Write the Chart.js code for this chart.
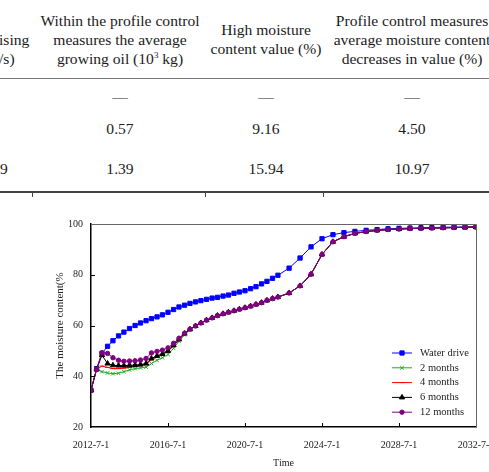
<!DOCTYPE html>
<html>
<head>
<meta charset="utf-8">
<script src="https://cdn.jsdelivr.net/npm/chart.js@4/dist/chart.umd.min.js"></script>
<style>
  html, body { margin: 0; padding: 0; background: #fff; }
  body { width: 489px; height: 472px; position: relative; overflow: hidden;
         font-family: "Liberation Serif", "DejaVu Serif", serif; color: #1c1c1c; }
  .cell { position: absolute; font-size: 15.6px; line-height: 18.8px; white-space: nowrap; text-align: center; transform: translateX(-50%); }
  .left { position: absolute; font-size: 15.6px; line-height: 18.8px; white-space: nowrap; }
  .rule { position: absolute; left: 0; width: 489px; }
  .tick { position: absolute; width: 1px; height: 4px; background: #444; top: 193px; }
  sup { font-size: 9px; line-height: 0; vertical-align: 6px; }
  #chartBox { position: absolute; left: 0; top: 200px; width: 489px; height: 272px; }
</style>
</head>
<body>
  <!-- table header -->
  <div class="left" style="left:-1px; top:31px;">ising<br>/s)</div>
  <div class="cell" style="left:120px; top:12px;">Within the profile control<br>measures the average<br>growing oil (10<sup>3</sup> kg)</div>
  <div class="cell" style="left:266px; top:21px;">High moisture<br>content value (%)</div>
  <div class="cell" style="left:412px; top:12px;">Profile control measures<br>average moisture content<br>decreases in value (%)</div>
  <div class="rule" style="top:78px; height:1px; background:#777;"></div>

  <!-- table body -->
  <div class="cell" style="left:120px; top:88px;">—</div>
  <div class="cell" style="left:266px; top:88px;">—</div>
  <div class="cell" style="left:412px; top:88px;">—</div>
  <div class="cell" style="left:120px; top:120px;">0.57</div>
  <div class="cell" style="left:266px; top:120px;">9.16</div>
  <div class="cell" style="left:412px; top:120px;">4.50</div>
  <div class="left" style="left:0px; top:160px;">9</div>
  <div class="cell" style="left:120px; top:160px;">1.39</div>
  <div class="cell" style="left:266px; top:160px;">15.94</div>
  <div class="cell" style="left:412px; top:160px;">10.97</div>
  <div class="rule" style="top:191px; height:2px; background:#444;"></div>
  <div class="tick" style="left:32px;"></div>
  <div class="tick" style="left:205px;"></div>
  <div class="tick" style="left:323px;"></div>

  <div id="chartBox"><canvas id="chart"></canvas></div>

<script>
// sample times (decimal years)
const years = [
    2012.50, 2012.79, 2013.07, 2013.36, 2013.64, 2013.93, 2014.21, 2014.50, 2014.79, 2015.07,
    2015.36, 2015.64, 2015.93, 2016.21, 2016.50, 2016.79, 2017.07, 2017.36, 2017.64, 2017.93,
    2018.21, 2018.50, 2018.79, 2019.07, 2019.36, 2019.64, 2019.93, 2020.21, 2020.50, 2020.79,
    2021.07, 2021.36, 2021.64, 2021.93, 2022.21, 2022.79, 2023.36, 2023.93, 2024.50, 2025.07,
    2025.64, 2026.21, 2026.79, 2027.36, 2027.93, 2028.50, 2029.07, 2029.64, 2030.21, 2030.79,
    2031.36, 2031.93, 2032.50
];

const waterDrive = [
    34.5, 43.0, 49.0, 51.8, 54.0, 55.9, 57.4, 58.8, 60.0, 61.0,
    61.9, 62.7, 63.4, 64.2, 65.2, 66.3, 67.3, 68.0, 68.7, 69.3,
    69.8, 70.3, 70.8, 71.1, 71.6, 72.0, 72.7, 73.2, 73.7, 74.5,
    75.3, 76.4, 77.4, 78.6, 79.8, 82.6, 86.6, 91.0, 94.2, 95.8,
    96.6, 97.1, 97.5, 97.8, 98.1, 98.3, 98.4, 98.5, 98.6, 98.7,
    98.8, 98.8, 98.9
];

const months2 = [
    34.5, 42.7, 41.8, 41.3, 41.0, 41.2, 41.8, 42.5, 43.0, 43.3,
    43.6, 45.0, 46.3, 47.3, 48.6, 51.0, 53.8, 56.3, 58.3, 59.8,
    61.0, 62.1, 63.0, 63.9, 64.6, 65.2, 65.8, 66.4, 67.0, 67.6,
    68.3, 69.0, 69.9, 70.6, 71.2, 72.8, 75.6, 80.2, 88.0, 93.0,
    95.0, 96.3, 97.0, 97.5, 97.8, 98.0, 98.2, 98.3, 98.4, 98.5,
    98.6, 98.7, 98.8
];

const months4 = [
    34.5, 42.7, 44.0, 43.5, 43.0, 43.0, 43.2, 43.5, 43.8, 44.2,
    44.6, 46.5, 47.6, 48.5, 49.8, 52.0, 54.5, 56.8, 58.5, 59.8,
    61.0, 62.1, 63.0, 63.9, 64.6, 65.2, 65.8, 66.4, 67.0, 67.6,
    68.3, 69.0, 69.9, 70.6, 71.2, 72.8, 75.6, 80.2, 88.0, 93.0,
    95.0, 96.3, 97.0, 97.5, 97.8, 98.0, 98.2, 98.3, 98.4, 98.5,
    98.6, 98.7, 98.8
];

const months6 = [
    34.5, 42.7, 48.3, 45.0, 44.3, 44.2, 44.2, 44.3, 44.4, 44.6,
    45.0, 47.0, 48.0, 48.8, 50.0, 52.2, 54.5, 56.8, 58.5, 59.8,
    61.0, 62.1, 63.0, 63.9, 64.6, 65.2, 65.8, 66.4, 67.0, 67.6,
    68.3, 69.0, 69.9, 70.6, 71.2, 72.8, 75.6, 80.2, 88.0, 93.0,
    95.0, 96.3, 97.0, 97.5, 97.8, 98.0, 98.2, 98.3, 98.4, 98.5,
    98.6, 98.7, 98.8
];

const months12 = [
    34.5, 42.7, 49.3, 49.0, 47.3, 46.3, 45.9, 46.0, 46.1, 46.4,
    47.0, 49.2, 49.8, 50.3, 51.2, 53.0, 55.0, 57.0, 58.6, 59.8,
    61.0, 62.1, 63.0, 63.9, 64.6, 65.2, 65.8, 66.4, 67.0, 67.6,
    68.3, 69.0, 69.9, 70.6, 71.2, 72.8, 75.6, 80.2, 88.0, 93.0,
    95.0, 96.3, 97.0, 97.5, 97.8, 98.0, 98.2, 98.3, 98.4, 98.5,
    98.6, 98.7, 98.8
];

const seriesNames = ['Water drive', '2 months', '4 months', '6 months', '12 months'];
const xTickValues = [2012.5, 2016.5, 2020.5, 2024.5, 2028.5, 2032.5];
const xTickLabels = ['2012-7-1', '2016-7-1', '2020-7-1', '2024-7-1', '2028-7-1', '2032-7-1'];
const yTickValues = [20, 40, 60, 80, 100];

function toPoints(values) {
    return values.map((v, i) => ({ x: years[i], y: v }));
}

function makeSet(label, values, color, style, radius, order) {
    return {
        label: label,
        data: toPoints(values),
        borderColor: color,
        backgroundColor: color,
        borderWidth: 1,
        pointStyle: style,
        pointRadius: radius,
        pointBorderWidth: 1,
        pointHoverRadius: radius,
        tension: 0,
        order: order
    };
}

const datasets = [
    makeSet(seriesNames[0], waterDrive, '#0000ff', 'rect', 3, 4),
    makeSet(seriesNames[1], months2, '#22aa22', 'crossRot', 2.5, 3),
    makeSet(seriesNames[2], months4, '#ff0000', 'line', 2.5, 2),
    makeSet(seriesNames[3], months6, '#000000', 'triangle', 3, 1),
    makeSet(seriesNames[4], months12, '#800080', 'circle', 2.2, 0)
];

// frame, inward ticks and the legend inside the plot
const framePlugin = {
    id: 'frame',
    afterDatasetsDraw(chart) {
        const ctx = chart.ctx;
        const a = chart.chartArea;
        const xs = chart.scales.x, ys = chart.scales.y;
        ctx.save();
        ctx.strokeStyle = '#666';
        ctx.lineWidth = 1;
        ctx.beginPath();
        ctx.moveTo(a.left, a.top + 0.5);
        ctx.lineTo(a.right + 0.5, a.top + 0.5);
        ctx.lineTo(a.right + 0.5, a.bottom);
        ctx.stroke();

        ctx.strokeStyle = '#000';
        ctx.beginPath();
        xTickValues.slice(1, -1).forEach(v => {
            const px = Math.round(xs.getPixelForValue(v)) + 0.5;
            ctx.moveTo(px, a.bottom);
            ctx.lineTo(px, a.bottom - 4);
        });
        yTickValues.slice(1, -1).forEach(v => {
            const py = Math.round(ys.getPixelForValue(v)) + 0.5;
            ctx.moveTo(a.left, py);
            ctx.lineTo(a.left + 4, py);
        });
        ctx.stroke();

        // legend
        const x0 = a.right - 84, x1 = a.right - 64, tx = a.right - 56;
        const y0 = a.bottom - 74, step = 14.8;
        ctx.font = '10.5px "Liberation Serif"';
        ctx.textBaseline = 'middle';
        chart.data.datasets.forEach((ds, i) => {
            const y = y0 + i * step;
            ctx.strokeStyle = ds.borderColor;
            ctx.fillStyle = ds.backgroundColor;
            ctx.lineWidth = 1;
            ctx.beginPath();
            ctx.moveTo(x0, y);
            ctx.lineTo(x1, y);
            ctx.stroke();
            Chart.helpers.drawPoint(ctx, {
                pointStyle: ds.pointStyle, radius: ds.pointRadius, rotation: 0, borderWidth: 1
            }, (x0 + x1) / 2, y);
            ctx.fillStyle = '#222';
            ctx.fillText(ds.label, tx, y);
        });
        ctx.restore();
    }
};

const ctx = document.getElementById('chart').getContext('2d');
new Chart(ctx, {
    type: 'line',
    data: { datasets: datasets },
    plugins: [framePlugin],
    options: {
        responsive: true,
        maintainAspectRatio: false,
        animation: false,
        layout: { padding: { top: 24, right: 13, left: 0, bottom: 0 } },
        plugins: {
            legend: { display: false },
            tooltip: { enabled: false }
        },
        scales: {
            x: {
                type: 'linear',
                min: 2012.5,
                max: 2032.5,
                afterBuildTicks: (scale) => {
                    scale.ticks = xTickValues.map(v => ({ value: v }));
                },
                afterFit: (scale) => {
                    scale.height = 45;
                    scale.paddingLeft = 0;
                    scale.paddingRight = 0;
                },
                ticks: {
                    maxRotation: 0,
                    autoSkip: false,
                    padding: 12,
                    color: '#222',
                    font: { family: 'Liberation Serif', size: 10 },
                    callback: (value) => {
                        const k = xTickValues.indexOf(value);
                        return k >= 0 ? xTickLabels[k] : '';
                    }
                },
                grid: { drawOnChartArea: false, drawTicks: false },
                border: { color: '#000', width: 1.5 },
                title: {
                    display: true,
                    text: 'Time',
                    color: '#222',
                    font: { family: 'Liberation Serif', size: 10 },
                    padding: { top: 0, bottom: 3 }
                }
            },
            y: {
                min: 20,
                max: 100,
                afterBuildTicks: (scale) => {
                    scale.ticks = yTickValues.map(v => ({ value: v }));
                },
                afterFit: (scale) => {
                    scale.width = 91;
                },
                ticks: {
                    padding: 8,
                    color: '#222',
                    font: { family: 'Liberation Serif', size: 10 }
                },
                grid: { drawOnChartArea: false, drawTicks: false },
                border: { color: '#000', width: 1.5 },
                title: {
                    display: true,
                    text: 'The moisture content(%',
                    color: '#222',
                    font: { family: 'Liberation Serif', size: 11 },
                    padding: { top: 54, bottom: 0 }
                }
            }
        }
    }
});
</script>
</body>
</html>
